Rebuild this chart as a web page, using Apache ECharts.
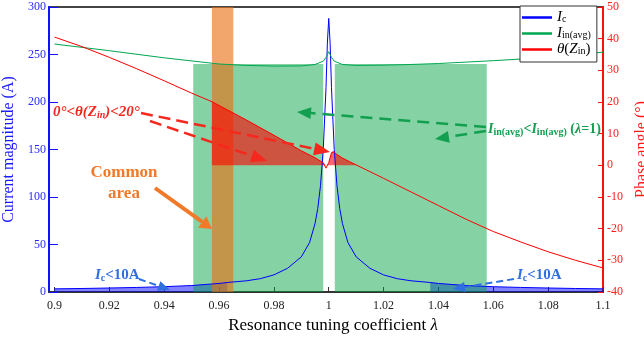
<!DOCTYPE html>
<html><head><meta charset="utf-8">
<script src="https://cdn.jsdelivr.net/npm/echarts@6/dist/echarts.min.js"></script>
<style>html,body{margin:0;padding:0;background:#fff}#c{width:644px;height:339px}</style>
</head><body><div id="c"></div>
<script>
// ---------------- data ----------------
const xTicks = [0.9, 0.92, 0.94, 0.96, 0.98, 1.0, 1.02, 1.04, 1.06, 1.08, 1.1];
const xTickLabels = ['0.9', '0.92', '0.94', '0.96', '0.98', '1', '1.02', '1.04', '1.06', '1.08', '1.1'];

const lamIc = [0.90,0.91,0.92,0.93,0.94,0.95,0.96,0.963,0.97,0.975,0.98,0.985,0.99,0.993,0.995,0.996,0.997,0.998,0.999,0.9995,1.0,1.0005,1.001,1.002,1.003,1.004,1.005,1.007,1.01,1.015,1.02,1.025,1.03,1.037,1.04,1.05,1.06,1.07,1.08,1.09,1.10];
const ic = [3.3,3.7,4.2,4.8,5.6,6.8,9.0,10,11.8,14,18,25,37,52,72,88,112,150,215,262,288,262,215,150,112,88,72,52,37,25,18,14,11.8,10,9.0,6.8,5.6,4.8,4.2,3.7,3.3];

const lamIin = [0.90,0.92,0.94,0.96,0.97,0.98,0.99,0.995,0.998,0.999,1.0,1.001,1.002,1.005,1.01,1.02,1.03,1.04,1.05,1.06,1.07,1.08,1.09,1.10];
const iin = [261,254,246.5,240,238.5,237.8,238,239.5,243,247,253,247,243,239.5,238.5,238.8,239.5,240.5,242,243.5,245.2,247.2,249.5,252.5];

const lamTheta = [0.90,0.91,0.92,0.93,0.94,0.95,0.9574,0.96,0.97,0.98,0.99,0.995,0.998,0.999,0.9995,1.0,1.001,1.0015,1.002,1.003,1.005,1.0075,1.0103,1.02,1.03,1.04,1.05,1.06,1.07,1.08,1.09,1.10];
const theta = [40.5,37.5,34.1,30.5,26.7,22.8,20.1,18.9,14.3,9.5,4.6,2.4,0.8,-0.9,-0.6,0.9,4.0,4.6,4.2,3.4,2.3,1.2,0,-4.1,-8.4,-12.7,-17.0,-20.9,-24.2,-27.3,-30.0,-32.4];

const greenRanges = [[0.9506, 0.998], [1.0022, 1.0576]]; // I_in(avg) < I_in(avg)(λ=1)
const greenTop = 240;
const commonRange = [0.9574, 0.9652];
const thetaRange = [0.9574, 1.0103]; // 0° < θ < 20°
const icLimit = 10;

// ---------------- helpers ----------------
const SERIF = "'Liberation Serif','DejaVu Serif',serif";
function pairs(xs, ys) { return xs.map((x, i) => [x, ys[i]]); }

function bandPolys() {
  const runs = []; let cur = [];
  lamIc.forEach((l, i) => {
    if (ic[i] <= icLimit) cur.push([l, ic[i]]);
    else if (cur.length) { runs.push(cur); cur = []; }
  });
  if (cur.length) runs.push(cur);
  return runs.map(r => [[r[0][0], 0]].concat(r, [[r[r.length - 1][0], 0]]));
}
function redPoly() {
  const pts = [[thetaRange[0], 0]];
  lamTheta.forEach((l, i) => {
    if (l >= thetaRange[0] - 1e-9 && l <= thetaRange[1] + 1e-9) pts.push([l, Math.max(0, theta[i])]);
  });
  pts.push([thetaRange[1], 0]);
  return [pts];
}
function rectPolys(ranges, y0, y1) {
  return ranges.map(r => [[r[0], y0], [r[1], y0], [r[1], y1], [r[0], y1]]);
}
function polySeries(name, yIdx, z, color, polys) {
  return {
    type: 'custom', name, yAxisIndex: yIdx, z, silent: true,
    data: [[1.0, yIdx === 0 ? 100 : 0]],
    renderItem: (params, api) => ({
      type: 'group',
      children: polys.map(p => ({
        type: 'polygon',
        shape: { points: p.map(pt => api.coord(pt)) },
        style: { fill: color }
      }))
    })
  };
}

// ---------------- annotations ----------------
const ann = [];
function arrow(x1, y1, x2, y2, color, w, dash, hl, hw) {
  const dx = x2 - x1, dy = y2 - y1, L = Math.hypot(dx, dy), ux = dx / L, uy = dy / L;
  const bx = x2 - ux * hl, by = y2 - uy * hl, px = -uy, py = ux;
  ann.push({ type: 'line', z: 100, shape: { x1, y1, x2: bx, y2: by },
    style: { stroke: color, lineWidth: w, lineDash: dash || null } });
  ann.push({ type: 'polygon', z: 100,
    shape: { points: [[x2, y2], [bx + px * hw, by + py * hw], [bx - px * hw, by - py * hw]] },
    style: { fill: color } });
}
const RED = '#f5281e', GRN = '#12a050', BLU = '#2f6fe0', ORG = '#f07a2a';
function richSet(color, size, weight, italicAll) {
  const st = italicAll ? 'italic' : 'normal';
  return {
    n: { fontFamily: SERIF, fontSize: size, fontWeight: weight, fontStyle: st, fill: color, color, lineHeight: 16 },
    i: { fontFamily: SERIF, fontSize: size, fontWeight: weight, fontStyle: 'italic', fill: color, color, lineHeight: 16 },
    s: { fontFamily: SERIF, fontSize: Math.round(size * 0.68), fontWeight: weight, fontStyle: st, fill: color, color, lineHeight: 6, verticalAlign: 'bottom' }
  };
}
function txt(x, y, text, rich, align) {
  ann.push({ type: 'text', z: 101, style: { x, y, text, rich, textAlign: align || 'left', textVerticalAlign: 'middle' } });
}

arrow(141, 113, 330, 152, RED, 2.5, [12, 6], 16, 6.5);
arrow(150, 121, 267, 161, RED, 2.5, [12, 6], 16, 6.5);
arrow(486, 127, 297, 112, GRN, 2.5, [12, 7], 14, 6);
arrow(486, 131, 435, 139, GRN, 2.5, [12, 7], 14, 6);
arrow(139, 279, 170, 290, BLU, 2, [7, 4], 12, 5);
arrow(514, 279, 453, 289, BLU, 2, [7, 4], 12, 5);
arrow(155, 188, 212, 229, ORG, 4, null, 12, 7);

txt(53, 112, '{n|0°<}{i|θ}{n|(}{i|Z}{s|in}{n|)<20°}', richSet(RED, 15, 'bold', true));
txt(124, 173, '{n|Common}', richSet(ORG, 17, 'bold', false), 'center');
txt(124, 194, '{n|area}', richSet(ORG, 17, 'bold', false), 'center');
txt(488, 129, '{i|I}{s|in(avg)}{n|<}{i|I}{s|in(avg)}{n| (}{i|λ}{n|=1)}', richSet(GRN, 14, 'bold', false));
txt(95, 275, '{i|I}{s|c}{n|<10A}', richSet(BLU, 15, 'bold', false));
txt(517, 275, '{i|I}{s|c}{n|<10A}', richSet(BLU, 15, 'bold', false));

// ---------------- chart ----------------
const chart = echarts.init(document.getElementById('c'), null, { renderer: 'canvas' });
const legendRich = {
  n: { fontFamily: SERIF, fontSize: 15, color: '#000', lineHeight: 14 },
  i: { fontFamily: SERIF, fontSize: 15, fontStyle: 'italic', color: '#000', lineHeight: 14 },
  s: { fontFamily: SERIF, fontSize: 10, color: '#000', lineHeight: 6, verticalAlign: 'bottom' }
};
const legendText = {
  'Ic': '{i|I}{s|c}',
  'Iin(avg)': '{i|I}{s|in(avg)}',
  'θ(Zin)': '{i|θ}{n|(}{i|Z}{s|in}{n|)}'
};

chart.setOption({
  animation: false,
  backgroundColor: '#fff',
  grid: { left: 49, right: 41, top: 7, bottom: 47, containLabel: false, outerBoundsMode: 'none',
    show: true, borderColor: '#444', borderWidth: 2, backgroundColor: 'transparent' },
  legend: {
    data: ['Ic', 'Iin(avg)', 'θ(Zin)'],
    orient: 'vertical', left: 520, top: 6, z: 10,
    icon: 'rect', itemWidth: 30, itemHeight: 2.5, itemGap: 1,
    padding: [4, 6, 5, 2],
    backgroundColor: '#fff', borderColor: '#333', borderWidth: 1,
    formatter: name => legendText[name],
    textStyle: { fontFamily: SERIF, fontSize: 15, rich: legendRich }
  },
  xAxis: {
    type: 'value', min: 0.898, max: 1.1,
    axisLine: { show: true, onZero: false, lineStyle: { color: '#333', width: 2 } },
    axisTick: { show: true, inside: true, length: 5, customValues: xTicks, lineStyle: { color: '#333' } },
    axisLabel: {
      customValues: xTicks, margin: 8, color: '#222', fontFamily: SERIF, fontSize: 12,
      formatter: v => xTickLabels[Math.round((v - 0.9) / 0.02)]
    },
    splitLine: { show: false },
    name: '{n|Resonance tuning coefficient }{l|λ}',
    nameLocation: 'middle', nameGap: 20,
    nameTextStyle: {
      padding: [0, 0, 0, 14],
      rich: {
        n: { fontFamily: SERIF, fontSize: 17, color: '#000' },
        l: { fontFamily: SERIF, fontSize: 17, fontStyle: 'italic', color: '#000' }
      }
    }
  },
  yAxis: [{
    type: 'value', min: 0, max: 300, interval: 50, position: 'left',
    axisLine: { show: true, lineStyle: { color: '#1010ff', width: 2 } },
    axisTick: { show: true, inside: true, length: 9, lineStyle: { color: '#1010ff' } },
    axisLabel: { color: '#2a2aff', fontFamily: SERIF, fontSize: 12, margin: 3 },
    splitLine: { show: false },
    name: 'Current magnitude (A)', nameLocation: 'middle', nameGap: 22,
    nameTextStyle: { color: '#1a1aff', fontFamily: SERIF, fontSize: 16 }
  }, {
    type: 'value', min: -40, max: 50, interval: 10, position: 'right',
    axisLine: { show: true, lineStyle: { color: '#ff1010', width: 2 } },
    axisTick: { show: true, inside: true, length: 5, lineStyle: { color: '#ff1010' } },
    axisLabel: { color: '#ff2020', fontFamily: SERIF, fontSize: 12, margin: 4 },
    splitLine: { show: false },
    name: 'Phase angle (°)', nameLocation: 'middle', nameGap: 21,
    nameTextStyle: { color: '#ff1a1a', fontFamily: SERIF, fontSize: 16 }
  }],
  series: [
    polySeries('band', 0, 1, 'rgba(0,0,255,0.49)', bandPolys()),
    polySeries('green', 0, 2, 'rgba(0,164,67,0.48)', rectPolys(greenRanges, 0, greenTop)),
    polySeries('common', 0, 3, 'rgba(234,111,18,0.62)', rectPolys([commonRange], 0, 300)),
    polySeries('thetaFill', 1, 4, 'rgba(255,0,0,0.6)', redPoly()),
    { type: 'line', name: 'Ic', yAxisIndex: 0, z: 5, symbol: 'none', data: pairs(lamIc, ic),
      lineStyle: { color: '#0000ff', width: 1 }, itemStyle: { color: '#0000ff' } },
    { type: 'line', name: 'Iin(avg)', yAxisIndex: 0, z: 5, symbol: 'none', data: pairs(lamIin, iin),
      lineStyle: { color: '#00a650', width: 1 }, itemStyle: { color: '#00a650' } },
    { type: 'line', name: 'θ(Zin)', yAxisIndex: 1, z: 5, symbol: 'none', data: pairs(lamTheta, theta),
      lineStyle: { color: '#ff0000', width: 1 }, itemStyle: { color: '#ff0000' } }
  ],
  graphic: ann
});
</script></body></html>
